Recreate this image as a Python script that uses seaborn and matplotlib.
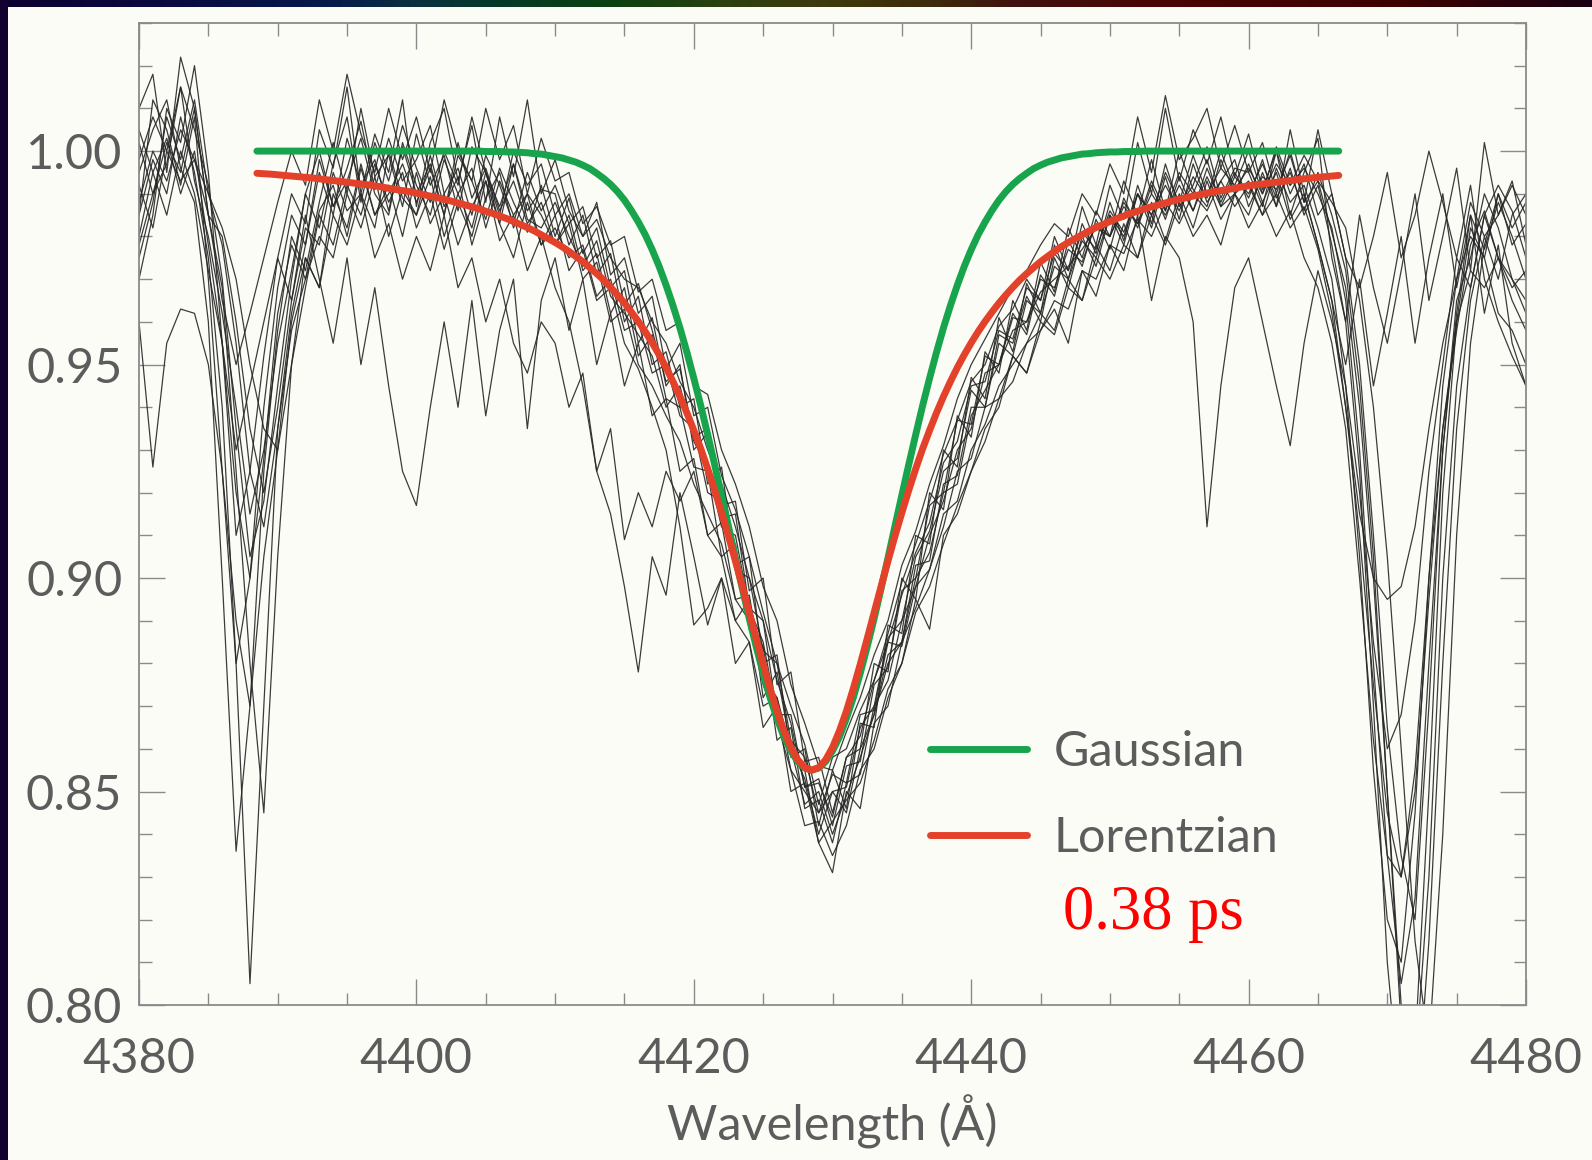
import numpy as np
import pandas as pd
import matplotlib
matplotlib.use("Agg")
import matplotlib.pyplot as plt
import seaborn as sns
from matplotlib.ticker import MultipleLocator, FormatStrFormatter
from matplotlib.colors import LinearSegmentedColormap
from matplotlib.patches import Rectangle

# ---------------- data ----------------
wavelength = list(range(4380, 4481))  # Angstrom, 1 A sampling

spec_01 = [0.985, 0.998, 0.990, 1.008, 0.995, 0.975, 0.940, 0.880, 0.805, 0.870,
           0.935, 0.962, 0.978, 0.995, 0.985, 1.003, 0.992, 0.998, 0.986, 1.001,
           0.990, 0.997, 0.985, 0.999, 0.993, 0.984, 0.996, 0.988, 0.981, 0.992,
           0.980, 0.989, 0.976, 0.982, 0.968, 0.972, 0.955, 0.961, 0.945, 0.950,
           0.930, 0.934, 0.914, 0.915, 0.893, 0.890, 0.868, 0.868, 0.851, 0.853,
           0.842, 0.856, 0.857, 0.875, 0.879, 0.897, 0.900, 0.917, 0.920, 0.937,
           0.936, 0.952, 0.950, 0.962, 0.957, 0.971, 0.966, 0.979, 0.973, 0.984,
           0.977, 0.989, 0.982, 0.992, 0.984, 0.994, 0.986, 0.996, 0.988, 0.995,
           0.989, 0.998, 0.987, 0.996, 0.985, 0.992, 0.978, 0.960, 0.925, 0.870,
           0.810, 0.775, 0.790, 0.850, 0.920, 0.960, 0.982, 0.975, 0.990, 0.978,
           0.983]
spec_02 = [0.995, 1.005, 1.012, 0.996, 0.988, 0.960, 0.900, 0.836, 0.870, 0.925,
           0.958, 0.980, 0.972, 0.988, 1.002, 0.990, 1.010, 0.994, 0.999, 0.987,
           1.004, 0.992, 0.999, 0.986, 1.001, 0.995, 0.983, 0.997, 0.986, 0.991,
           0.990, 0.978, 0.985, 0.971, 0.976, 0.960, 0.966, 0.950, 0.953, 0.940,
           0.942, 0.922, 0.926, 0.903, 0.905, 0.880, 0.882, 0.858, 0.860, 0.842,
           0.855, 0.846, 0.866, 0.865, 0.889, 0.887, 0.910, 0.908, 0.930, 0.926,
           0.947, 0.942, 0.961, 0.953, 0.969, 0.962, 0.978, 0.970, 0.983, 0.976,
           0.988, 0.979, 0.992, 0.983, 0.997, 0.987, 0.992, 1.001, 0.989, 0.996,
           0.995, 0.987, 1.000, 0.990, 0.997, 0.985, 0.990, 0.975, 0.950, 0.910,
           0.865, 0.835, 0.820, 0.870, 0.930, 0.965, 0.975, 0.990, 0.982, 0.970,
           0.965]
spec_03 = [0.978, 0.990, 1.002, 0.995, 1.010, 0.985, 0.968, 0.925, 0.880, 0.845,
           0.905, 0.950, 0.975, 0.968, 0.990, 0.982, 0.997, 0.985, 0.992, 0.980,
           0.995, 0.983, 0.990, 0.978, 0.987, 0.993, 0.979, 0.985, 0.972, 0.980,
           0.968, 0.960, 0.945, 0.925, 0.935, 0.909, 0.920, 0.912, 0.925, 0.918,
           0.925, 0.910, 0.913, 0.895, 0.896, 0.877, 0.872, 0.860, 0.853, 0.840,
           0.850, 0.851, 0.865, 0.870, 0.886, 0.890, 0.905, 0.911, 0.925, 0.928,
           0.944, 0.940, 0.957, 0.955, 0.966, 0.960, 0.975, 0.968, 0.980, 0.973,
           0.985, 0.978, 0.990, 0.982, 0.994, 0.984, 0.997, 0.988, 0.993, 0.998,
           0.987, 0.994, 0.991, 0.999, 0.988, 0.993, 0.981, 0.968, 0.940, 0.900,
           0.850, 0.800, 0.785, 0.830, 0.900, 0.945, 0.968, 0.985, 0.992, 0.986,
           0.975]
spec_04 = [1.002, 0.990, 0.997, 1.015, 1.005, 0.992, 0.970, 0.935, 0.905, 0.918,
           0.945, 0.970, 0.990, 1.000, 0.987, 0.996, 1.007, 0.991, 1.003, 0.993,
           0.998, 1.006, 0.990, 0.996, 0.985, 0.999, 0.992, 0.983, 0.995, 0.986,
           0.992, 0.983, 0.987, 0.975, 0.979, 0.964, 0.969, 0.958, 0.946, 0.949,
           0.933, 0.935, 0.917, 0.918, 0.897, 0.900, 0.875, 0.878, 0.857, 0.858,
           0.845, 0.858, 0.860, 0.880, 0.878, 0.900, 0.895, 0.920, 0.916, 0.938,
           0.933, 0.953, 0.948, 0.965, 0.958, 0.974, 0.967, 0.982, 0.975, 0.986,
           0.980, 0.993, 0.985, 0.998, 0.986, 1.000, 0.991, 0.987, 0.998, 0.990,
           0.997, 0.988, 0.995, 0.984, 0.990, 0.978, 0.965, 0.940, 0.915, 0.900,
           0.895, 0.898, 0.912, 0.935, 0.955, 0.970, 0.980, 0.975, 0.962, 0.958,
           0.950]
spec_05 = [0.970, 0.985, 1.010, 1.002, 1.020, 0.995, 0.955, 0.910, 0.925, 0.952,
           0.975, 0.990, 0.983, 1.005, 0.996, 1.015, 0.990, 1.004, 0.995, 1.012,
           0.987, 1.002, 1.010, 0.993, 1.006, 0.988, 1.008, 0.994, 1.012, 0.990,
           0.998, 0.986, 0.980, 0.988, 0.971, 0.975, 0.962, 0.966, 0.949, 0.955,
           0.938, 0.940, 0.924, 0.916, 0.905, 0.892, 0.880, 0.870, 0.861, 0.847,
           0.858, 0.860, 0.869, 0.876, 0.887, 0.899, 0.908, 0.918, 0.929, 0.937,
           0.946, 0.950, 0.959, 0.963, 0.970, 0.965, 0.980, 0.972, 0.987, 0.978,
           0.992, 0.984, 1.002, 0.990, 1.010, 0.993, 1.005, 0.997, 1.008, 0.994,
           1.004, 0.991, 1.000, 0.985, 0.995, 1.003, 0.975, 0.960, 0.985, 0.968,
           0.955, 0.972, 0.990, 0.965, 0.980, 0.996, 0.972, 1.002, 0.985, 0.993,
           0.978]
spec_06 = [0.992, 0.982, 1.000, 0.993, 0.998, 0.985, 0.980, 0.960, 0.935, 0.920,
           0.940, 0.965, 0.982, 0.978, 0.995, 0.986, 0.990, 0.982, 1.000, 0.989,
           0.985, 0.994, 0.980, 0.990, 0.996, 0.982, 0.993, 0.985, 0.990, 0.978,
           0.982, 0.975, 0.978, 0.966, 0.970, 0.958, 0.960, 0.948, 0.950, 0.938,
           0.935, 0.920, 0.918, 0.902, 0.900, 0.883, 0.880, 0.862, 0.858, 0.845,
           0.850, 0.845, 0.860, 0.868, 0.880, 0.885, 0.900, 0.906, 0.920, 0.922,
           0.938, 0.944, 0.950, 0.958, 0.960, 0.967, 0.970, 0.973, 0.977, 0.982,
           0.980, 0.987, 0.983, 0.990, 0.985, 0.992, 0.986, 0.994, 0.987, 0.990,
           0.993, 0.985, 0.996, 0.988, 0.992, 0.982, 0.970, 0.945, 0.905, 0.855,
           0.820, 0.810, 0.845, 0.900, 0.945, 0.970, 0.988, 0.980, 0.985, 0.992,
           0.985]
spec_07 = [0.980, 0.995, 0.985, 1.000, 0.990, 0.972, 0.955, 0.930, 0.945, 0.960,
           0.975, 0.965, 0.985, 0.970, 0.955, 0.975, 0.950, 0.968, 0.945, 0.925,
           0.917, 0.940, 0.960, 0.940, 0.965, 0.938, 0.958, 0.970, 0.935, 0.965,
           0.975, 0.958, 0.970, 0.950, 0.962, 0.945, 0.955, 0.938, 0.942, 0.925,
           0.928, 0.910, 0.905, 0.890, 0.895, 0.872, 0.878, 0.860, 0.855, 0.838,
           0.831, 0.850, 0.846, 0.866, 0.870, 0.885, 0.893, 0.902, 0.915, 0.918,
           0.930, 0.936, 0.945, 0.950, 0.955, 0.962, 0.958, 0.970, 0.965, 0.978,
           0.972, 0.983, 0.975, 0.988, 0.979, 0.990, 0.982, 0.993, 0.984, 0.990,
           0.985, 0.995, 0.987, 1.005, 0.990, 0.978, 0.965, 0.950, 0.970, 0.945,
           0.962, 0.980, 0.955, 0.975, 0.990, 0.968, 0.985, 0.962, 0.978, 0.955,
           0.945]
spec_08 = [0.960, 0.926, 0.955, 0.963, 0.962, 0.950, 0.925, 0.890, 0.870, 0.905,
           0.930, 0.960, 0.975, 0.968, 0.985, 0.978, 0.990, 0.975, 0.983, 0.970,
           0.980, 0.972, 0.985, 0.968, 0.975, 0.960, 0.970, 0.955, 0.948, 0.960,
           0.955, 0.940, 0.948, 0.925, 0.915, 0.898, 0.878, 0.905, 0.896, 0.920,
           0.905, 0.889, 0.900, 0.880, 0.885, 0.865, 0.870, 0.850, 0.852, 0.838,
           0.843, 0.848, 0.852, 0.862, 0.874, 0.880, 0.895, 0.888, 0.910, 0.915,
           0.925, 0.935, 0.940, 0.952, 0.948, 0.960, 0.957, 0.968, 0.965, 0.975,
           0.970, 0.978, 0.975, 0.985, 0.978, 0.988, 0.980, 0.985, 0.978, 0.990,
           0.982, 0.988, 0.980, 0.986, 0.975, 0.968, 0.955, 0.935, 0.900, 0.862,
           0.835, 0.830, 0.855, 0.900, 0.935, 0.960, 0.972, 0.968, 0.975, 0.965,
           0.958]
spec_09 = [0.998, 1.008, 1.000, 1.015, 0.993, 0.980, 0.962, 0.940, 0.915, 0.930,
           0.955, 0.972, 0.990, 0.982, 0.997, 1.008, 0.988, 1.002, 0.993, 1.006,
           0.996, 0.988, 1.000, 0.992, 1.008, 0.995, 0.985, 1.000, 0.992, 0.997,
           0.985, 0.990, 0.980, 0.984, 0.975, 0.970, 0.968, 0.960, 0.955, 0.946,
           0.940, 0.930, 0.922, 0.912, 0.900, 0.890, 0.876, 0.866, 0.851, 0.852,
           0.844, 0.858, 0.863, 0.876, 0.885, 0.896, 0.906, 0.913, 0.927, 0.932,
           0.945, 0.946, 0.958, 0.956, 0.968, 0.965, 0.976, 0.972, 0.981, 0.977,
           0.986, 0.981, 0.990, 0.985, 0.995, 0.988, 0.999, 0.990, 0.996, 0.992,
           1.000, 0.990, 0.997, 0.992, 0.999, 0.993, 0.988, 0.982, 0.965, 0.940,
           0.905, 0.860, 0.815, 0.790, 0.840, 0.910, 0.955, 0.978, 0.990, 0.982,
           0.988]
spec_10 = [0.988, 1.000, 0.993, 1.005, 0.998, 0.990, 0.982, 0.970, 0.950, 0.935,
           0.930, 0.950, 0.968, 0.985, 0.978, 0.992, 0.985, 0.997, 0.988, 0.995,
           0.982, 0.990, 0.977, 0.988, 0.980, 0.993, 0.983, 0.975, 0.988, 0.978,
           0.985, 0.972, 0.977, 0.965, 0.968, 0.955, 0.949, 0.940, 0.930, 0.912,
           0.889, 0.893, 0.900, 0.890, 0.885, 0.870, 0.872, 0.855, 0.850, 0.845,
           0.854, 0.852, 0.868, 0.869, 0.885, 0.884, 0.898, 0.902, 0.912, 0.925,
           0.928, 0.940, 0.942, 0.952, 0.948, 0.958, 0.963, 0.955, 0.972, 0.966,
           0.978, 0.972, 0.985, 0.965, 0.980, 0.975, 0.960, 0.912, 0.945, 0.968,
           0.975, 0.960, 0.945, 0.931, 0.955, 0.972, 0.960, 0.945, 0.920, 0.885,
           0.860, 0.868, 0.890, 0.925, 0.950, 0.975, 0.968, 0.985, 0.975, 0.968,
           0.972]
spec_11 = [1.005, 0.995, 1.003, 0.990, 1.000, 0.978, 0.955, 0.920, 0.900, 0.928,
           0.962, 0.978, 0.970, 0.986, 0.992, 0.980, 0.996, 0.985, 0.990, 0.997,
           0.988, 0.996, 0.985, 1.002, 0.989, 0.996, 0.986, 0.993, 0.983, 0.988,
           0.978, 0.985, 0.972, 0.976, 0.962, 0.968, 0.952, 0.957, 0.942, 0.940,
           0.926, 0.925, 0.905, 0.908, 0.888, 0.884, 0.862, 0.865, 0.846, 0.848,
           0.838, 0.852, 0.854, 0.870, 0.876, 0.890, 0.898, 0.910, 0.918, 0.930,
           0.935, 0.948, 0.950, 0.961, 0.960, 0.970, 0.968, 0.977, 0.974, 0.983,
           0.980, 0.988, 0.983, 0.993, 0.986, 0.995, 0.990, 0.998, 0.987, 0.994,
           0.990, 0.997, 0.989, 0.995, 0.986, 0.995, 0.985, 0.972, 0.945, 0.905,
           0.850, 0.795, 0.770, 0.815, 0.880, 0.935, 0.965, 0.980, 0.970, 0.985,
           0.990]
spec_12 = [1.010, 1.018, 0.995, 1.022, 1.010, 0.985, 0.965, 0.950, 0.962, 0.975,
           0.988, 1.000, 0.992, 1.012, 1.000, 1.018, 1.004, 0.995, 1.010, 0.998,
           1.008, 0.995, 1.012, 1.000, 0.993, 1.010, 0.998, 1.006, 0.990, 1.003,
           0.993, 0.995, 0.983, 0.987, 0.978, 0.980, 0.967, 0.970, 0.958, 0.960,
           0.945, 0.943, 0.930, 0.922, 0.912, 0.898, 0.890, 0.875, 0.866, 0.856,
           0.855, 0.864, 0.872, 0.882, 0.890, 0.903, 0.911, 0.922, 0.931, 0.942,
           0.950, 0.956, 0.962, 0.968, 0.972, 0.978, 0.983, 0.980, 0.990, 0.985,
           0.997, 0.990, 1.008, 0.995, 1.013, 0.998, 1.003, 1.010, 0.996, 1.006,
           0.995, 1.002, 0.990, 1.000, 0.988, 1.005, 0.990, 0.975, 0.968, 0.980,
           0.995, 0.975, 0.985, 1.000, 0.988, 0.975, 0.992, 0.970, 0.960, 0.952,
           0.945]
spec_13 = [0.985, 1.012, 1.005, 0.992, 1.008, 0.970, 0.925, 0.880, 0.900, 0.940,
           0.968, 0.985, 0.978, 0.998, 0.987, 0.993, 1.003, 0.990, 0.985, 1.002,
           0.992, 0.985, 0.998, 0.990, 0.982, 0.995, 0.987, 0.997, 0.984, 0.982,
           0.988, 0.980, 0.973, 0.979, 0.966, 0.962, 0.957, 0.952, 0.940, 0.945,
           0.932, 0.926, 0.912, 0.910, 0.893, 0.885, 0.868, 0.860, 0.847, 0.850,
           0.840, 0.849, 0.858, 0.868, 0.882, 0.885, 0.903, 0.904, 0.922, 0.924,
           0.940, 0.940, 0.955, 0.952, 0.965, 0.962, 0.973, 0.970, 0.979, 0.975,
           0.985, 0.980, 0.990, 0.985, 0.992, 0.986, 0.994, 0.989, 1.000, 0.991,
           0.996, 0.990, 1.001, 0.992, 0.996, 0.990, 0.982, 0.965, 0.930, 0.880,
           0.835, 0.805, 0.825, 0.880, 0.930, 0.962, 0.985, 0.977, 0.988, 0.980,
           0.970]
spec_14 = [0.975, 0.988, 1.008, 0.998, 1.012, 0.990, 0.978, 0.955, 0.925, 0.912,
           0.935, 0.958, 0.970, 0.980, 0.975, 0.990, 0.982, 0.994, 0.980, 0.991,
           0.985, 0.999, 0.987, 0.994, 0.978, 0.989, 0.995, 0.982, 0.990, 0.985,
           0.978, 0.983, 0.970, 0.974, 0.960, 0.963, 0.950, 0.945, 0.938, 0.932,
           0.922, 0.915, 0.908, 0.895, 0.890, 0.875, 0.866, 0.855, 0.842, 0.843,
           0.835, 0.842, 0.855, 0.860, 0.872, 0.880, 0.892, 0.898, 0.908, 0.917,
           0.925, 0.932, 0.942, 0.946, 0.955, 0.958, 0.965, 0.963, 0.972, 0.970,
           0.978, 0.976, 0.984, 0.980, 0.988, 0.983, 0.990, 0.986, 0.993, 0.987,
           0.992, 0.985, 0.990, 0.982, 0.987, 0.977, 0.962, 0.940, 0.910, 0.875,
           0.845, 0.830, 0.850, 0.895, 0.935, 0.958, 0.978, 0.986, 0.975, 0.970,
           0.962]

# fitted profiles: 1 A steps in the far wings, 0.5 A steps across the line
fit_wavelength = np.concatenate([np.arange(4388.5, 4404.6, 1.0),
                                 np.arange(4405.0, 4452.6, 0.5),
                                 np.arange(4453.5, 4466.6, 1.0)])
gauss_flux = [1.0000, 1.0000, 1.0000, 1.0000, 1.0000, 1.0000, 1.0000, 1.0000, 1.0000,
              1.0000, 1.0000, 1.0000, 1.0000, 1.0000, 1.0000, 1.0000, 1.0000,
              0.9999, 0.9999, 0.9999, 0.9998, 0.9998, 0.9997, 0.9996, 0.9994, 0.9993, 0.9990,
              0.9987, 0.9984, 0.9979, 0.9974, 0.9967, 0.9959, 0.9948, 0.9936, 0.9922, 0.9905,
              0.9885, 0.9861, 0.9834, 0.9804, 0.9769, 0.9730, 0.9686, 0.9638, 0.9586, 0.9529,
              0.9468, 0.9404, 0.9336, 0.9266, 0.9194, 0.9121, 0.9047, 0.8975, 0.8905, 0.8839,
              0.8777, 0.8720, 0.8671, 0.8628, 0.8595, 0.8570, 0.8555,
              0.8550,
              0.8555, 0.8570, 0.8595, 0.8628, 0.8671, 0.8720, 0.8777, 0.8839, 0.8905, 0.8975,
              0.9047, 0.9121, 0.9194, 0.9266, 0.9336, 0.9404, 0.9468, 0.9529, 0.9586, 0.9638,
              0.9686, 0.9730, 0.9769, 0.9804, 0.9834, 0.9861, 0.9885, 0.9905, 0.9922, 0.9936,
              0.9948, 0.9959, 0.9967, 0.9974, 0.9979, 0.9984, 0.9987, 0.9990, 0.9993, 0.9994,
              0.9996, 0.9997, 0.9998, 0.9998, 0.9999, 0.9999, 0.9999,
              1.0000,
              1.0000, 1.0000, 1.0000, 1.0000, 1.0000, 1.0000, 1.0000, 1.0000, 1.0000,
              1.0000, 1.0000, 1.0000, 1.0000, 1.0000]
lorentz_flux = [0.9948, 0.9946, 0.9943, 0.9940, 0.9937, 0.9933, 0.9929, 0.9925, 0.9921,
                0.9916, 0.9910, 0.9905, 0.9898, 0.9891, 0.9883, 0.9874, 0.9865,
                0.9859, 0.9854, 0.9848, 0.9842, 0.9835, 0.9828, 0.9821, 0.9813, 0.9804, 0.9795,
                0.9786, 0.9776, 0.9765, 0.9753, 0.9741, 0.9727, 0.9713, 0.9698, 0.9681, 0.9663,
                0.9644, 0.9623, 0.9601, 0.9577, 0.9551, 0.9523, 0.9493, 0.9460, 0.9425, 0.9387,
                0.9346, 0.9303, 0.9256, 0.9206, 0.9153, 0.9098, 0.9040, 0.8980, 0.8919, 0.8858,
                0.8798, 0.8741, 0.8688, 0.8642, 0.8603, 0.8574, 0.8556,
                0.8550,
                0.8556, 0.8574, 0.8603, 0.8642, 0.8688, 0.8741, 0.8798, 0.8858, 0.8919, 0.8980,
                0.9040, 0.9098, 0.9153, 0.9206, 0.9256, 0.9303, 0.9346, 0.9387, 0.9425, 0.9460,
                0.9493, 0.9523, 0.9551, 0.9577, 0.9601, 0.9623, 0.9644, 0.9663, 0.9681, 0.9698,
                0.9713, 0.9727, 0.9741, 0.9753, 0.9765, 0.9776, 0.9786, 0.9795, 0.9804, 0.9813,
                0.9821, 0.9828, 0.9835, 0.9842, 0.9848, 0.9854, 0.9859,
                0.9865,
                0.9874, 0.9883, 0.9891, 0.9898, 0.9905, 0.9910, 0.9916, 0.9921, 0.9925,
                0.9929, 0.9933, 0.9937, 0.9940, 0.9943]

legend_labels = ["Gaussian", "Lorentzian"]
annotation = "0.38 ps"
x_label = "Wavelength (Å)"

# ---------------- style ----------------
sns.set_style("ticks")
plt.rcParams["font.family"] = ["Lato", "DejaVu Sans"]

BG = "#fcfcf7"
GREEN = "#18a44c"
RED = "#e4412b"
GREY_TXT = "#5c5c5c"
GREY_AX = "#8a8a8a"

W, H = 1592, 1160
fig = plt.figure(figsize=(W / 100, H / 100), dpi=100, facecolor=BG)
ax = fig.add_axes([139 / W, 1 - 1005 / H, (1526 - 139) / W, (1005 - 23) / H])
ax.set_facecolor(BG)

spectra = [spec_01, spec_02, spec_03, spec_04, spec_05, spec_06, spec_07,
           spec_08, spec_09, spec_10, spec_11, spec_12, spec_13, spec_14]
frames = []
for i, s in enumerate(spectra):
    n = min(len(s), len(wavelength))
    frames.append(pd.DataFrame({"wavelength": wavelength[:n], "flux": s[:n], "spectrum": i}))
df = pd.concat(frames, ignore_index=True)

sns.lineplot(data=df, x="wavelength", y="flux", units="spectrum", estimator=None,
             color="#262626", lw=0.9, alpha=0.9, ax=ax, legend=False, zorder=2)

nf = min(len(fit_wavelength), len(gauss_flux), len(lorentz_flux))
sns.lineplot(x=fit_wavelength[:nf], y=gauss_flux[:nf], color=GREEN, lw=5, ax=ax,
             label=legend_labels[0], zorder=4, sort=False)
sns.lineplot(x=fit_wavelength[:nf], y=lorentz_flux[:nf], color=RED, lw=5, ax=ax,
             label=legend_labels[1], zorder=5, sort=False)

ax.set_xlim(4380, 4480)
ax.set_ylim(0.80, 1.030)

ax.xaxis.set_major_locator(MultipleLocator(20))
ax.xaxis.set_minor_locator(MultipleLocator(5))
ax.yaxis.set_major_locator(MultipleLocator(0.05))
ax.yaxis.set_minor_locator(MultipleLocator(0.01))
ax.yaxis.set_major_formatter(FormatStrFormatter("%.2f"))

ax.tick_params(which="both", direction="in", top=True, right=True,
               color=GREY_AX, width=1.0, labelcolor=GREY_TXT, labelsize=35)
ax.tick_params(which="major", length=19)
ax.tick_params(which="minor", length=9)
ax.tick_params(axis="x", which="major", pad=23)
ax.tick_params(axis="y", which="major", pad=12)
for sp in ax.spines.values():
    sp.set_color(GREY_AX)
    sp.set_linewidth(1.3)

ax.set_xlabel(x_label, fontsize=35, color=GREY_TXT, labelpad=10)
ax.set_ylabel("")

leg = ax.legend(loc="upper left", bbox_to_anchor=(0.570, 0.280), frameon=False,
                fontsize=35, handlelength=2.0, handletextpad=0.55,
                labelspacing=0.86, borderpad=0, borderaxespad=0)
for t in leg.get_texts():
    t.set_color(GREY_TXT)

fig.text(1063 / W, 1 - 929 / H, annotation, color="#ff0000", fontsize=45,
         family=["Liberation Serif", "DejaVu Serif"], fontweight="normal",
         ha="left", va="baseline")

# frame decoration: left dark border and top coloured strip
fig.patches.append(Rectangle((0, 0), 8 / W, 1, transform=fig.transFigure,
                             facecolor="#12002e", edgecolor="none", zorder=10))
strip_cmap = LinearSegmentedColormap.from_list("strip", [
    (0.00, "#0d0030"), (0.10, "#0a0a40"), (0.20, "#06184a"), (0.26, "#0a3040"),
    (0.32, "#063a25"), (0.38, "#0a4010"), (0.46, "#2e4010"), (0.52, "#3e3a0c"),
    (0.59, "#3d2a0a"), (0.64, "#401010"), (0.72, "#4a0606"), (0.88, "#3d0000"),
    (1.00, "#1a0012")])
sax = fig.add_axes([0, 1 - 7 / H, 1, 7 / H])
sax.imshow(np.linspace(0, 1, 400)[None, :], aspect="auto", cmap=strip_cmap)
sax.set_axis_off()

fig.savefig("out.png", dpi=100, facecolor=BG)
